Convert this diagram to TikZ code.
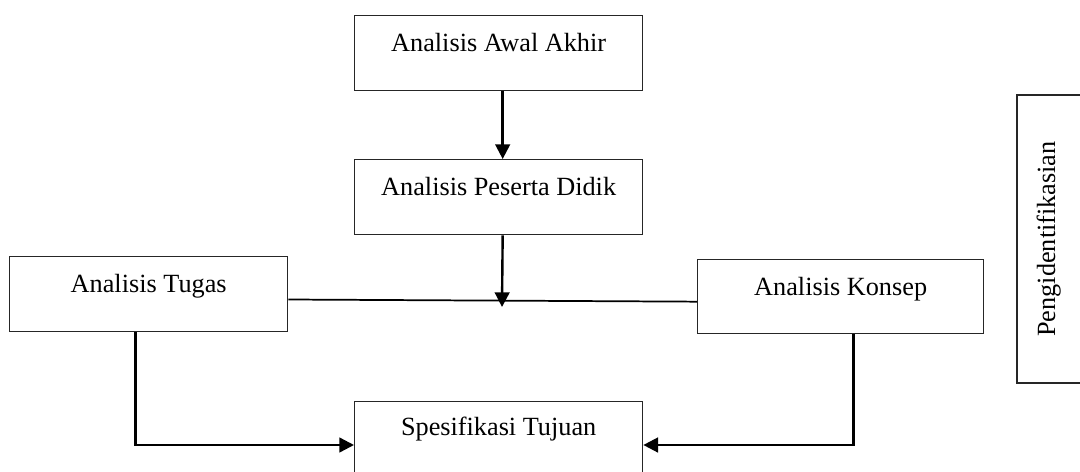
\documentclass[tikz,border=0pt]{standalone}
\usepackage{fontspec}
\setmainfont{Liberation Serif}
\usetikzlibrary{arrows.meta}
\begin{document}
\begin{tikzpicture}[x=0.75pt,y=-0.75pt,
  box/.style={draw=black!85, line width=1pt, rectangle, inner ysep=0pt, inner xsep=2pt,
    font=\fontsize{19.7pt}{24pt}\selectfont, anchor=north west,
    text height=26.5pt, text depth=29.75pt},
  arr/.style={line width=1.8pt, -{Triangle[length=11pt,width=11pt]}},
  link/.style={line width=1.3pt}]
\useasboundingbox (0,0) rectangle (1080,471);
\node[box, minimum width=216pt] (a1) at (354,15) {Analisis Awal Akhir};
\node[box, minimum width=216pt] (a2) at (354,159) {Analisis Peserta Didik};
\node[box, minimum width=208.5pt, text height=27pt, text depth=29.25pt] (tg) at (9,256) {Analisis Tugas};
\node[box, minimum width=214.5pt, text height=27pt, text depth=28.5pt] (ks) at (697,259) {Analisis Konsep};
\node[box, minimum width=216pt, text height=25pt, text depth=31pt] (sp) at (354,401) {Spesifikasi Tujuan};
\node[draw=black!85, line width=1pt, rectangle, rotate=90, inner ysep=0pt,
  font=\fontsize{19.7pt}{24pt}\selectfont, minimum width=216pt,
  text height=28.5pt, text depth=46.5pt, anchor=center] (pg) at (1067,239) {Pengidentifikasian};
\coordinate (m) at (502,307);
\draw[arr] ([xshift=3pt]a1.south) -- ([xshift=3pt]a2.north);
\draw[arr] ([xshift=3pt]a2.south) -- (m);
\draw[link] ([yshift=-4pt]tg.east) -- ([yshift=-3.75pt]ks.west);
\draw[arr] ([xshift=-9.75pt]tg.south) |- ([yshift=-4.5pt]sp.west);
\draw[arr] ([xshift=9.75pt]ks.south) |- ([yshift=-4.5pt]sp.east);
\end{tikzpicture}
\end{document}
